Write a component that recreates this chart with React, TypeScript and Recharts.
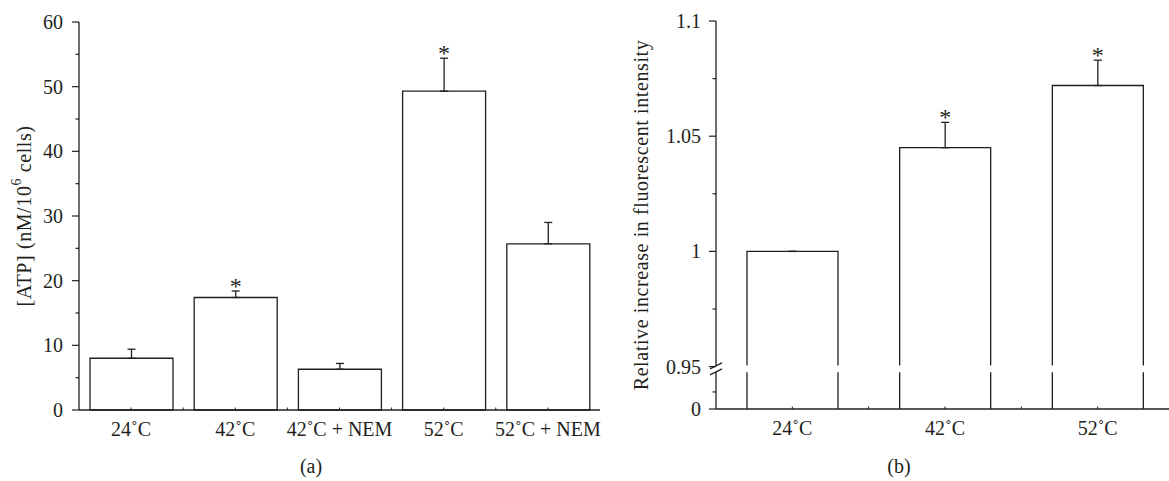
import React from "react";
import { BarChart, Bar, XAxis, YAxis, ErrorBar, Label, LabelList } from "recharts";

// panel (a): ATP content
const atpGroups = ["24˚C", "42˚C", "42˚C + NEM", "52˚C", "52˚C + NEM"];
const atpMean = [8.0, 17.4, 6.3, 49.3, 25.7];
const atpErr = [1.4, 1.0, 0.9, 5.1, 3.3];
const atpStar = [false, true, false, true, false];
const atpTicks = [0, 5, 10, 15, 20, 25, 30, 35, 40, 45, 50, 55, 60];

// panel (b): relative fluorescence (broken axis, bottom of the scale is 0)
const fluoGroups = ["24˚C", "42˚C", "52˚C"];
const fluoMean = [1.0, 1.045, 1.072];
const fluoErr = [0, 0.011, 0.011];
const fluoStar = [false, true, true];
const fluoMajor = [0.95, 1, 1.05, 1.1];
const fluoMinor = [0.975, 1.025, 1.075];

// where the axis is cut
const Y_BOTTOM_B = 0.9316;
const BREAK_LO = 0.9475;
const BREAK_MID = 0.949;
const BREAK_HI = 0.9505;
const LOW_MINOR_B = 0.939;

const INK = "#231f20";
const FONT = "'Liberation Serif', 'DejaVu Serif', serif";
const TICK_FS = 20;

const atpData = atpGroups.map((name, i) => ({
  name,
  mean: atpMean[i],
  err: [0, atpErr[i]],
  star: atpStar[i],
}));

const fluoData = fluoGroups.map((name, i) => ({
  name,
  mean: fluoMean[i],
  err: [0, fluoErr[i]],
  star: fluoStar[i],
}));

const YTickA = (props: any) => {
  const { x, y, payload } = props;
  const v = payload.value;
  const major = v % 10 === 0;
  return (
    <g>
      <line x1={x - (major ? 7 : 3.5)} x2={x} y1={y} y2={y} stroke={INK} strokeWidth={1.2} />
      {major && (
        <text x={x - 16} y={y + 7} textAnchor="end" fontSize={TICK_FS} fontFamily={FONT} fill={INK}>
          {v}
        </text>
      )}
    </g>
  );
};

const YTickB = (props: any) => {
  const { x, y, payload } = props;
  const v = payload.value;
  if (v === BREAK_MID) {
    return (
      <g>
        <rect x={x - 3} y={y - 3} width={6} height={6} fill="#fff" />
        <line x1={x - 6} y1={y} x2={x + 6} y2={y - 6} stroke={INK} strokeWidth={1.2} />
        <line x1={x - 6} y1={y + 6} x2={x + 6} y2={y} stroke={INK} strokeWidth={1.2} />
      </g>
    );
  }
  const isZero = v === Y_BOTTOM_B;
  const major = isZero || fluoMajor.includes(v);
  return (
    <g>
      <line x1={x - (major ? 7 : 3.5)} x2={x} y1={y} y2={y} stroke={INK} strokeWidth={1.2} />
      {major && (
        <text x={x - 15} y={y + 7} textAnchor="end" fontSize={TICK_FS} fontFamily={FONT} fill={INK}>
          {isZero ? "0" : String(v)}
        </text>
      )}
    </g>
  );
};

const makeXTick = (count: number, band: number) => (props: any) => {
  const { x, y, payload, index } = props;
  const half = band / 2;
  return (
    <g>
      <line x1={x} x2={x} y1={y} y2={y - 2.5} stroke={INK} strokeWidth={1} />
      {index < count - 1 && (
        <line x1={x + half} x2={x + half} y1={y} y2={y - 2.5} stroke={INK} strokeWidth={1} />
      )}
      <text x={x} y={y + 26} textAnchor="middle" fontSize={TICK_FS} fontFamily={FONT} fill={INK}>
        {payload.value}
      </text>
    </g>
  );
};

const BrokenBar = (props: any) => {
  const { x, y, width, height, payload } = props;
  const base = y + height;
  const ppu = height / (payload.mean - Y_BOTTOM_B);
  const gTop = base - (BREAK_HI - Y_BOTTOM_B) * ppu;
  const gBot = base - (BREAK_LO - Y_BOTTOM_B) * ppu;
  const r = x + width;
  const d = `M${x},${base}L${x},${gBot}M${x},${gTop}L${x},${y}L${r},${y}L${r},${gTop}M${r},${gBot}L${r},${base}`;
  return <path d={d} fill="none" stroke={INK} strokeWidth={1.3} />;
};

const makeStar = (means: number[], errs: number[], flags: boolean[], base: number) => (props: any) => {
  const { index } = props;
  const vb = props.viewBox || props;
  if (!flags[index]) return null;
  const ppu = vb.height / (means[index] - base);
  const top = vb.y - errs[index] * ppu;
  return (
    <text x={vb.x + vb.width / 2} y={top + 3} textAnchor="middle" fontSize={24} fontFamily={FONT} fill={INK}>
      *
    </text>
  );
};

const LeftTitle = (props: any) => {
  const vb = props.viewBox || { x: 0, y: 22, width: 79, height: 388 };
  const cx = vb.x + 24;
  const cy = vb.y + vb.height / 2;
  return (
    <text
      x={cx}
      y={cy}
      transform={`rotate(-90 ${cx} ${cy})`}
      textAnchor="middle"
      dominantBaseline="central"
      fontSize={20}
      letterSpacing={0.6}
      fontFamily={FONT}
      fill={INK}
    >
      [ATP] (nM/10
      <tspan dy={-8} fontSize={14}>6</tspan>
      <tspan dy={8}> cells)</tspan>
    </text>
  );
};

const RightTitle = (props: any) => {
  const vb = props.viewBox || { x: 0, y: 21, width: 116, height: 388 };
  const cx = vb.x + 41;
  const cy = vb.y + vb.height / 2;
  return (
    <text
      x={cx}
      y={cy}
      transform={`rotate(-90 ${cx} ${cy})`}
      textAnchor="middle"
      dominantBaseline="central"
      fontSize={20}
      letterSpacing={0.6}
      fontFamily={FONT}
      fill={INK}
    >
      Relative increase in fluorescent intensity
    </text>
  );
};

const App: React.FC = () => {
  const fluoTicks = [Y_BOTTOM_B, LOW_MINOR_B, BREAK_MID, ...fluoMajor, ...fluoMinor].sort((a, b) => a - b);
  return (
    <div
      style={{
        position: "absolute",
        left: 0,
        top: 0,
        width: 1169,
        height: 481,
        overflow: "hidden",
        background: "#fff",
        fontFamily: FONT,
      }}
    >
      <div style={{ position: "absolute", left: 0, top: 0 }}>
        <BarChart width={610} height={481} data={atpData} margin={{ top: 22, right: 10, bottom: 41, left: 0 }}>
          <XAxis
            dataKey="name"
            height={30}
            tickSize={0}
            tickMargin={0}
            tickLine={false}
            interval={0}
            axisLine={{ stroke: INK, strokeWidth: 1.3 }}
            tick={makeXTick(atpGroups.length, 521 / atpGroups.length)}
          />
          <YAxis
            type="number"
            width={79}
            domain={[0, 60]}
            ticks={atpTicks}
            interval={0}
            tickSize={0}
            tickMargin={0}
            tickLine={false}
            axisLine={{ stroke: INK, strokeWidth: 1.3 }}
            tick={YTickA}
          >
            <Label content={LeftTitle} />
          </YAxis>
          <Bar dataKey="mean" barSize={83} fill="none" stroke={INK} strokeWidth={1.3} isAnimationActive={false}>
            <ErrorBar dataKey="err" direction="y" width={4} stroke={INK} strokeWidth={1.3} isAnimationActive={false} />
            <LabelList dataKey="star" content={makeStar(atpMean, atpErr, atpStar, 0)} />
          </Bar>
        </BarChart>
      </div>

      <div style={{ position: "absolute", left: 600, top: 0 }}>
        <BarChart width={575} height={481} data={fluoData} margin={{ top: 21, right: 1, bottom: 42, left: 0 }}>
          <XAxis
            dataKey="name"
            height={30}
            tickSize={0}
            tickMargin={0}
            tickLine={false}
            interval={0}
            axisLine={{ stroke: INK, strokeWidth: 1.3 }}
            tick={makeXTick(fluoGroups.length, 458 / fluoGroups.length)}
          />
          <YAxis
            type="number"
            width={116}
            domain={[Y_BOTTOM_B, 1.1]}
            ticks={fluoTicks}
            interval={0}
            tickSize={0}
            tickMargin={0}
            tickLine={false}
            axisLine={{ stroke: INK, strokeWidth: 1.3 }}
            tick={YTickB}
          >
            <Label content={RightTitle} />
          </YAxis>
          <Bar dataKey="mean" barSize={91} shape={BrokenBar} isAnimationActive={false}>
            <ErrorBar dataKey="err" direction="y" width={4} stroke={INK} strokeWidth={1.3} isAnimationActive={false} />
            <LabelList dataKey="star" content={makeStar(fluoMean, fluoErr, fluoStar, Y_BOTTOM_B)} />
          </Bar>
        </BarChart>
      </div>

      <div style={{ position: "absolute", left: 311, top: 466, transform: "translate(-50%, -50%)", fontSize: 20, color: INK }}>
        (a)
      </div>
      <div style={{ position: "absolute", left: 899, top: 466, transform: "translate(-50%, -50%)", fontSize: 20, color: INK }}>
        (b)
      </div>
    </div>
  );
};

export default App;
